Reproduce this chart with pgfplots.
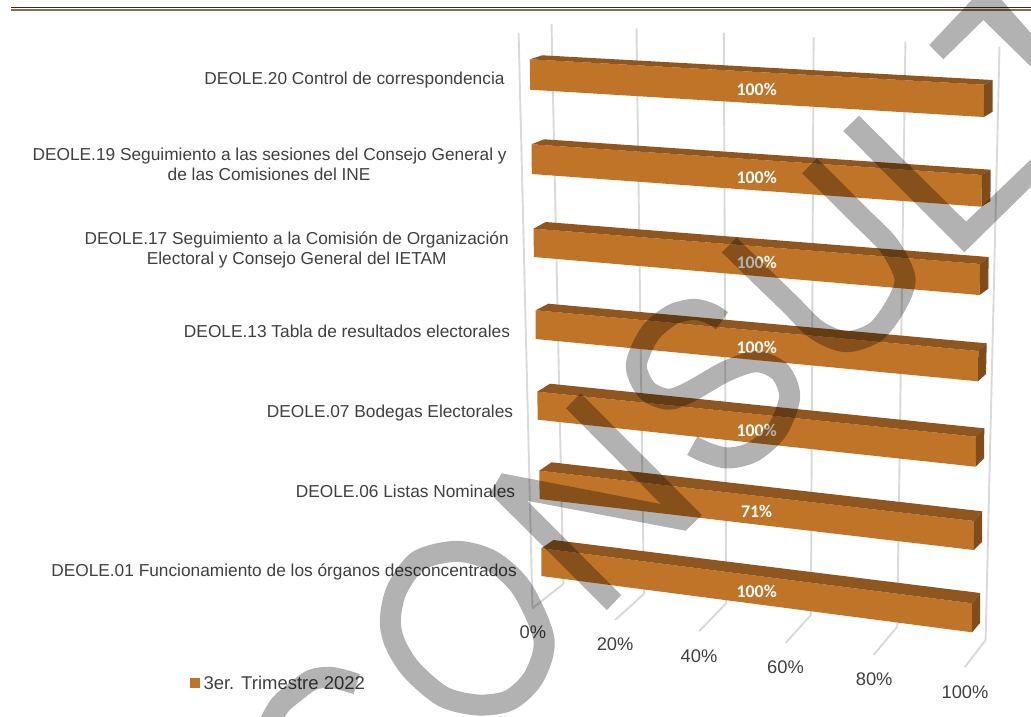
\documentclass[border=0pt]{standalone}
\usepackage{pgfplots}
\pgfplotsset{compat=1.18}
\usepackage{fontspec}
\setmainfont{Liberation Sans}
\newfontfamily\carlito{Carlito}
\definecolor{front}{HTML}{C07428}
\definecolor{topf}{HTML}{8F561F}
\definecolor{sidef}{HTML}{7F4C1A}
\definecolor{gridc}{HTML}{D9D9D9}
\definecolor{txt}{HTML}{404040}
\definecolor{ruleA}{HTML}{3A2A1A}
\definecolor{ruleB}{HTML}{8C6A45}
% one 3D bar: TL, backL, backR, FTR, FBR, SBR, FBL (picture coordinates)
\newcommand{\drawbar}[7]{%
  \addplot[fill=front,draw=none] coordinates {#1 #4 #5 #7} --cycle;
  \addplot[fill=topf,draw=none] coordinates {#1 #2 #3 #4} --cycle;
  \addplot[fill=sidef,draw=none] coordinates {#4 #3 #6 #5} --cycle;
}
\newcommand{\gridl}[2]{\addplot[draw=gridc,line width=1.9pt] coordinates {#1 #2};}
\newcommand{\cat}[2]{\node[anchor=base,inner sep=0pt,text=txt,font=\fontsize{17.3}{20.3}\selectfont] at (axis cs:#1) {#2};}
\newcommand{\tick}[2]{\node[text=txt,font=\fontsize{18.3}{20}\selectfont] at (axis cs:#1) {#2};}
\newcommand{\val}[2]{\node[text=white,font=\carlito\bfseries\fontsize{17.8}{20}\selectfont] at (axis cs:#1) {#2};}
\tikzset{wm/.style={draw=none,fill=black,fill opacity=0.3},
         wmline/.style={draw=black,draw opacity=0.3,line width=21pt,line cap=butt,line join=round,fill=none}}
\begin{document}
\begin{tikzpicture}
\begin{axis}[width=1031pt,height=716pt,scale only axis,xmin=0,xmax=1031,ymin=0,ymax=716,y dir=reverse,hide axis,clip=true,no markers]
\addplot[fill=white,draw=none] coordinates {(0,0)(1031,0)(1031,716)(0,716)} --cycle;
% top rule
\addplot[draw=ruleA,line width=1pt] coordinates {(11,7)(1031,7)};
\addplot[draw=ruleB,line width=2.5pt] coordinates {(11,9.8)(1031,9.8)};
% walls and floor
\gridl{(518.6,33.3)}{(532.5,608.3)}
\gridl{(551.5,24)}{(563.3,584)}
\gridl{(636.5,28.3)}{(643.9,594)}
\gridl{(723.8,32.7)}{(726.2,603.3)}
\gridl{(813.6,37.3)}{(810.9,615)}
\gridl{(905.4,42)}{(897.2,626.7)}
\gridl{(999.5,46.7)}{(985.6,640)}
\gridl{(563.3,584)}{(532.5,608.3)}
\gridl{(643.9,594)}{(615.1,620)}
\gridl{(726.2,603.3)}{(699.1,631.3)}
\gridl{(810.9,615)}{(785.8,642.7)}
\gridl{(897.2,626.7)}{(873.5,655)}
\gridl{(985.6,640)}{(964.6,667.3)}
% bars
\drawbar{(529.8,59.3)}{(542.3,55.3)}{(992.7,80)}{(984.2,84.7)}{(983.8,117)}{(992.7,111.7)}{(530.1,89.7)}
\drawbar{(531.5,144.3)}{(544,139.3)}{(990.7,169.7)}{(981.9,175)}{(981.5,206.7)}{(990.4,201)}{(531.8,174)}
\drawbar{(533.5,228.7)}{(545.7,222)}{(988.6,257)}{(980.2,264)}{(979.5,295)}{(988.3,288.7)}{(533.9,257)}
\drawbar{(535.7,310.3)}{(548.3,303.7)}{(986.7,343.3)}{(978.3,351)}{(978,381.3)}{(986,374)}{(535.7,339)}
\drawbar{(537.3,391.7)}{(550,383.7)}{(984.3,428.3)}{(976,436.7)}{(975.7,466.7)}{(984,458.3)}{(537.7,419.7)}
\drawbar{(539.3,470.7)}{(551.5,462.3)}{(982.2,511.3)}{(974.1,521)}{(973.8,550)}{(982.2,541.7)}{(539.6,499)}
\drawbar{(541.3,548.3)}{(553.5,540)}{(980.2,593)}{(972.1,603.3)}{(972.1,632.3)}{(980.2,622.7)}{(541.3,576)}
% data labels
\val{756.7,89.3}{100\%}
\val{756.7,177.3}{100\%}
\val{756.7,262.5}{100\%}
\val{756.7,347.3}{100\%}
\val{756.7,430.7}{100\%}
\val{756.7,511.3}{71\%}
\val{756.7,591.7}{100\%}
% categories
\cat{354.5,84.7}{DEOLE.20 Control de correspondencia}
\cat{269.6,160.5}{DEOLE.19 Seguimiento a las sesiones del Consejo General y}
\cat{269.1,180.5}{de las Comisiones del INE}
\cat{296.7,244.5}{DEOLE.17 Seguimiento a la Comisión de Organización}
\cat{296.7,264.5}{Electoral y Consejo General del IETAM}
\cat{347,337.2}{DEOLE.13 Tabla de resultados electorales}
\cat{390,417.2}{DEOLE.07 Bodegas Electorales}
\cat{405.5,497.2}{DEOLE.06 Listas Nominales}
\cat{284,576.5}{DEOLE.01 Funcionamiento de los órganos desconcentrados}
% value axis
\tick{532.8,632.3}{0\%}
\tick{615.1,644}{20\%}
\tick{699,656}{40\%}
\tick{785.5,666.7}{60\%}
\tick{874.2,678.7}{80\%}
\tick{965,691.7}{100\%}
% legend
\addplot[fill=front,draw=none] coordinates {(190,678.3)(200,678.3)(200,688.3)(190,688.3)} --cycle;
\node[text=txt,anchor=west,inner sep=0pt,font=\fontsize{18.5}{20}\selectfont] at (axis cs:203.3,682.7) {3er. Trimestre 2022};
% watermark
\addplot[wmline,smooth] coordinates {(356.7,684)(343.3,680)(329.3,677.3)(311.7,680)(293.3,693.3)(280,705)(270,722)};
\addplot[wmline,smooth cycle] coordinates {(390.3,620)(396.7,590)(418.3,560.7)(456.7,551.3)(491.7,560.7)(521.7,588.3)(544,639.3)(534,676.7)(510,700)(478.3,705)(443.3,696.7)(411.7,670)(395,643.3)};
\addplot[wm] coordinates {(490,493.3)(607,610)(621.2,595)(527,500.7)(685.6,530.7)(701.8,515)(580.7,393.3)(566,408.3)(660.9,504)(501.7,473.3)} --cycle;
\addplot[wmline,smooth] coordinates {(722,320.7)(710,313.3)(693.3,309.3)(671.7,315)(650,333.3)(636.3,365)(646.7,390)(668.3,399.3)(690,391.7)(726.7,371)(756.7,361.7)(780,371.7)(789.7,396.7)(777.3,430)(753.3,451.7)(728.3,458)(706.7,452.7)(692.3,445.7)};
\addplot[wmline,smooth] coordinates {(809.5,165.8)(830,186)(860,216)(889.3,246)(905,278.3)(896,305)(875.7,331.7)(846,341.7)(816.7,330)(790,304)(760,275)(729.3,245)};
\addplot[wm] coordinates {(859,115.7)(843.3,131)(964.3,252.3)(1031,186.7)(1031,159.3)(966,221.7)} --cycle;
\addplot[wm] coordinates {(929.3,45)(943.3,59.3)(983.3,20)(1031,66.7)(1031,33.3)(1001.7,0)(971.7,0)} --cycle;
\end{axis}
\end{tikzpicture}
\end{document}
